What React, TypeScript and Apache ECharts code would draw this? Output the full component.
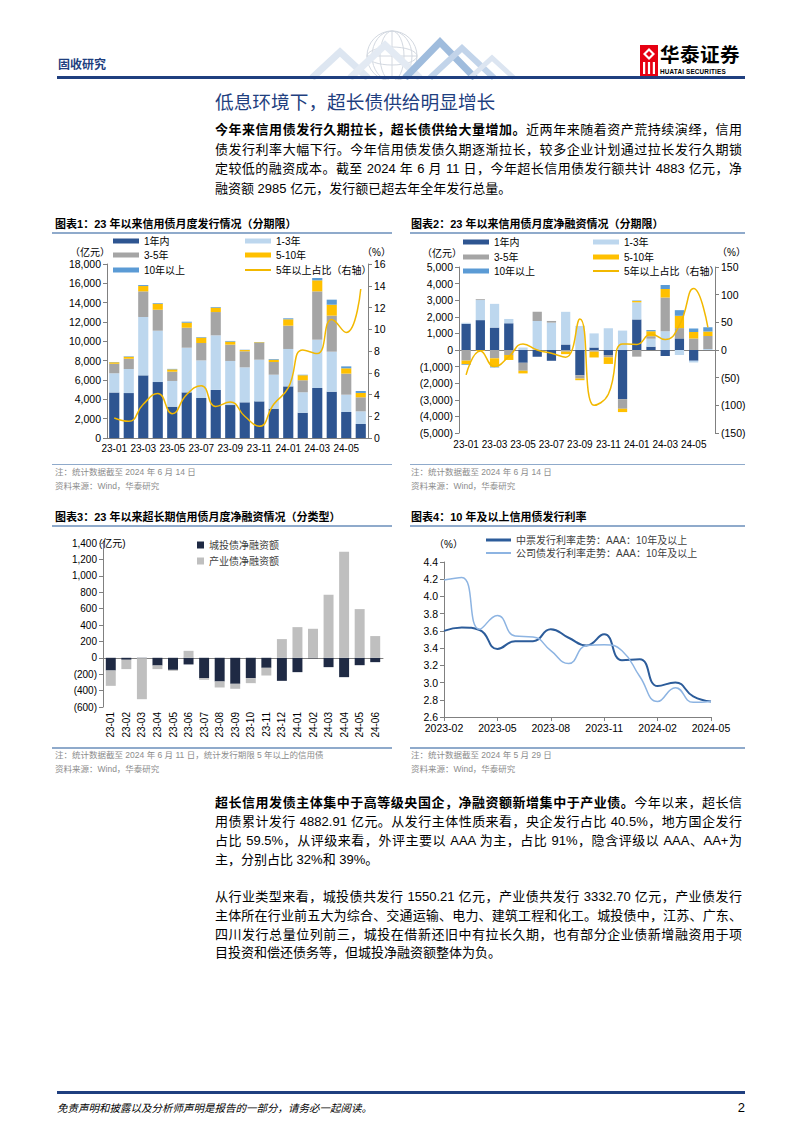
import React, { useEffect, useRef } from "react";
import * as echarts from "echarts";

const FONT = '"Liberation Sans", Arial, "Noto Sans CJK SC", sans-serif';

// ---------- data ----------
const months = ["23-01","23-02","23-03","23-04","23-05","23-06","23-07","23-08","23-09","23-10","23-11","23-12","24-01","24-02","24-03","24-04","24-05","24-06"];
const tenorNames = ["1年内", "1-3年", "3-5年", "5-10年", "10年以上"];
const ratioName = "5年以上占比（右轴）";

// chart 1: issuance by tenor (亿元)
const c1Within1y = [4700, 4650, 6480, 5790, 3240, 4720, 4140, 4970, 3410, 3690, 3790, 3030, 5340, 2620, 5170, 4790, 2690, 1450];
const c1From1to3 = [2000, 2490, 6040, 5310, 2660, 4620, 3890, 5650, 4560, 3620, 4310, 3520, 3870, 2100, 5000, 4140, 1790, 1310];
const c1From3to5 = [970, 1060, 2650, 2170, 960, 2070, 1800, 2410, 1690, 1660, 1730, 1310, 2410, 1250, 5000, 3730, 2180, 1450];
const c1From5to10 = [170, 200, 550, 620, 240, 520, 550, 450, 310, 130, 70, 240, 660, 510, 1140, 1130, 550, 450];
const c1Over10 = [30, 50, 100, 70, 50, 100, 60, 70, 70, 30, 30, 70, 100, 70, 240, 520, 200, 200];
const c1Ratio = [1.84, 1.53, 3.1, 4.1, 2.24, 4.0, 4.8, 2.9, 3.3, 2.0, 1.07, 3.1, 4.6, 8.1, 7.76, 10.9, 9.7, 13.7];

// chart 2: net financing by tenor (亿元)
const c2Within1y = [1580, 1800, 1350, 1610, -770, -400, -650, 330, -1520, 150, -300, -2960, 1840, 200, -360, 700, -650, 0];
const c2From1to3 = [60, 1210, 1430, 260, 150, 1750, 1650, 1970, 1450, 850, 1310, 1170, 1030, 480, 1130, -300, -100, 60];
const c2From3to5 = [-640, 50, -500, -300, -480, 550, 100, -100, -200, -100, -140, -580, -400, 150, 2040, 620, 690, 790];
const c2From5to10 = [-220, -50, -500, -300, -160, 0, 0, -150, -100, -350, -400, -200, 80, 300, 500, 740, 400, 260];
const c2Over10 = [-40, 0, -50, 0, 0, 0, 0, 0, 0, 0, 0, 0, 30, 70, 240, 340, 200, 260];
const c2Ratio = [-45, -2, -30, -12, 11, 0, -6, -13, 56, -100, -80, 11, 10, 29, 19, 45, 111, 41];

// chart 3: ultra-long net financing by type (亿元)
const c3Names = ["城投债净融资额", "产业债净融资额"];
const c3Chengtou = [-155, -24, -5, -94, -147, -81, -248, -289, -317, -248, -122, -281, -175, -5, -114, -236, -90, -53];
const c3Chanye = [-187, -114, -500, -44, -12, 85, -20, -73, -61, -61, -94, 228, 374, 354, 769, 1294, 594, 265];

// chart 4: issuance rates (%)
const c4Dates = ["2023-02","2023-03","2023-04","2023-05","2023-06","2023-07","2023-08","2023-09","2023-10","2023-11","2023-12","2024-01","2024-02","2024-03","2024-04","2024-05"];
const c4Names = ["中票发行利率走势：AAA：10年及以上", "公司债发行利率走势：AAA：10年及以上"];
const c4Mtn = [3.60, 3.64, 3.61, 3.39, 3.48, 3.48, 3.62, 3.52, 3.43, 3.56, 3.26, 3.27, 2.96, 3.00, 2.84, 2.78];
const c4Corp = [4.19, 4.22, 3.62, 3.78, 3.54, 3.53, 3.37, 3.22, 3.43, 3.44, 3.37, 3.07, 2.78, 2.94, 2.77, 2.78];

// ---------- styles ----------
const tenorColors = ["#2E5591", "#BDD7EE", "#A5A5A5", "#FFC000", "#5B9BD5"];
const lineGold = "#F2B800";
const axisGrey = "#808080";

function fmtNum(v: number) {
  const s = Math.abs(v).toLocaleString("en-US");
  return v < 0 ? `(${s})` : s;
}

function legendItem(name: string, left: number, top: number, w: number, h: number, color = "#000") {
  return {
    data: [name],
    left,
    top,
    padding: 0,
    itemWidth: w,
    itemHeight: h,
    icon: "rect",
    selectedMode: false,
    textStyle: { fontSize: 10, color, fontFamily: FONT },
  };
}

function unitText(text: string, x: number, y: number, color = "#000") {
  return {
    type: "text",
    x,
    y,
    style: { text, fontSize: 10, fill: color, fontFamily: FONT, verticalAlign: "middle" },
  };
}

const valueAxisBase = {
  type: "value",
  axisLine: { show: true, lineStyle: { color: axisGrey } },
  axisTick: { show: true, length: 4, lineStyle: { color: axisGrey } },
  splitLine: { show: false },
  axisLabel: { color: "#000", fontSize: 10.5, margin: 6, fontFamily: FONT },
};

function option1() {
  const c1Data = [c1Within1y, c1From1to3, c1From3to5, c1From5to10, c1Over10];
  return {
    animation: false,
    textStyle: { fontFamily: FONT },
    grid: { left: 57, top: 29, width: 261, height: 174 },
    legend: [
      legendItem(tenorNames[0], 63, 1, 26, 5),
      legendItem(tenorNames[1], 195, 1, 26, 5),
      legendItem(tenorNames[2], 63, 15, 26, 5),
      legendItem(tenorNames[3], 195, 15, 26, 5),
      legendItem(tenorNames[4], 63, 30, 26, 5),
      legendItem(ratioName, 195, 30, 26, 2),
    ],
    xAxis: {
      type: "category",
      data: months,
      axisLine: { lineStyle: { color: axisGrey } },
      axisTick: { interval: 0, length: 4, lineStyle: { color: axisGrey } },
      axisLabel: { interval: 1, color: "#000", fontSize: 10, margin: 5 },
    },
    yAxis: [
      { ...valueAxisBase, min: 0, max: 18000, interval: 2000, axisLabel: { ...valueAxisBase.axisLabel, formatter: fmtNum } },
      { ...valueAxisBase, position: "right", min: 0, max: 16, interval: 2 },
    ],
    graphic: [unitText("（亿元）", 20, 17), unitText("（%）", 312, 17)],
    series: [
      ...tenorNames.map((n, i) => ({
        name: n,
        type: "bar",
        stack: "a",
        barWidth: "70%",
        data: c1Data[i],
        itemStyle: { color: tenorColors[i] },
      })),
      {
        name: ratioName,
        type: "line",
        yAxisIndex: 1,
        data: c1Ratio,
        smooth: true,
        symbol: "none",
        lineStyle: { color: lineGold, width: 1.5 },
        itemStyle: { color: lineGold },
      },
    ],
  };
}

function option2() {
  const c2Data = [c2Within1y, c2From1to3, c2From3to5, c2From5to10, c2Over10];
  return {
    animation: false,
    textStyle: { fontFamily: FONT },
    grid: { left: 51, top: 32, width: 256, height: 166 },
    legend: [
      legendItem(tenorNames[0], 55, 2, 26, 5),
      legendItem(tenorNames[1], 185, 2, 26, 5),
      legendItem(tenorNames[2], 55, 17, 26, 5),
      legendItem(tenorNames[3], 185, 17, 26, 5),
      legendItem(tenorNames[4], 55, 31, 26, 5),
      legendItem(ratioName, 185, 31, 26, 2),
    ],
    xAxis: [
      {
        type: "category",
        data: months,
        axisLine: { onZero: true, lineStyle: { color: axisGrey } },
        axisTick: { interval: 0, length: 3, lineStyle: { color: axisGrey } },
        axisLabel: { show: false },
      },
      {
        type: "category",
        data: months,
        position: "bottom",
        axisLine: { show: false, onZero: false },
        axisTick: { show: false },
        axisLabel: { interval: 1, color: "#000", fontSize: 10, margin: 6 },
      },
    ],
    yAxis: [
      { ...valueAxisBase, min: -5000, max: 5000, interval: 1000, axisLabel: { ...valueAxisBase.axisLabel, formatter: fmtNum } },
      { ...valueAxisBase, position: "right", min: -150, max: 150, interval: 50, axisLabel: { ...valueAxisBase.axisLabel, formatter: fmtNum } },
    ],
    graphic: [unitText("（亿元）", 14, 18), unitText("（%）", 309, 17)],
    series: [
      ...tenorNames.map((n, i) => ({
        name: n,
        type: "bar",
        stack: "a",
        barWidth: "65%",
        data: c2Data[i],
        itemStyle: { color: tenorColors[i] },
      })),
      {
        name: ratioName,
        type: "line",
        yAxisIndex: 1,
        data: c2Ratio,
        smooth: true,
        symbol: "none",
        lineStyle: { color: lineGold, width: 1.5 },
        itemStyle: { color: lineGold },
      },
    ],
  };
}

function option3() {
  const colors = ["#1F2A44", "#BFBFBF"];
  const data = [c3Chengtou, c3Chanye];
  return {
    animation: false,
    textStyle: { fontFamily: FONT },
    grid: { left: 53, top: 16, width: 280, height: 164 },
    legend: [
      legendItem(c3Names[0], 147, 13, 7, 7, "#404040"),
      legendItem(c3Names[1], 147, 29, 7, 7, "#404040"),
    ],
    xAxis: [
      {
        type: "category",
        data: months,
        axisLine: { onZero: true, lineStyle: { color: axisGrey } },
        axisTick: { show: false },
        axisLabel: { show: false },
      },
      {
        type: "category",
        data: months,
        position: "bottom",
        axisLine: { show: false, onZero: false },
        axisTick: { show: false },
        axisLabel: { interval: 0, rotate: 90, color: "#000", fontSize: 10, margin: 5 },
      },
    ],
    yAxis: { ...valueAxisBase, min: -600, max: 1400, interval: 200, axisLabel: { ...valueAxisBase.axisLabel, fontSize: 10, formatter: fmtNum } },
    graphic: [unitText("(亿元)", 49, 16, "#000")],
    series: c3Names.map((n, i) => ({
      name: n,
      type: "bar",
      stack: "t",
      barWidth: "64%",
      data: data[i],
      itemStyle: { color: colors[i] },
    })),
  };
}

function option4() {
  const colors = ["#2C5C9A", "#8DB4E2"];
  const data = [c4Mtn, c4Corp];
  return {
    animation: false,
    textStyle: { fontFamily: FONT },
    grid: { left: 36, top: 35, width: 267, height: 155 },
    legend: [
      legendItem(c4Names[0], 78, 8, 25, 3, "#404040"),
      legendItem(c4Names[1], 78, 21, 25, 2, "#404040"),
    ],
    xAxis: {
      type: "category",
      data: c4Dates,
      boundaryGap: false,
      axisLine: { lineStyle: { color: axisGrey } },
      axisTick: { interval: 2, length: 4, lineStyle: { color: axisGrey } },
      axisLabel: { interval: 2, color: "#000", fontSize: 10.5, margin: 6 },
    },
    yAxis: {
      ...valueAxisBase,
      min: 2.6,
      max: 4.4,
      interval: 0.2,
      axisLabel: { ...valueAxisBase.axisLabel, formatter: (v: number) => v.toFixed(1) },
    },
    graphic: [unitText("（%）", 26, 17, "#000")],
    series: c4Names.map((n, i) => ({
      name: n,
      type: "line",
      data: data[i],
      smooth: true,
      symbol: "none",
      lineStyle: { color: colors[i], width: i === 0 ? 2 : 1.5 },
      itemStyle: { color: colors[i] },
    })),
  };
}

function Chart({ option, left, top, width, height }: { option: any; left: number; top: number; width: number; height: number }) {
  const ref = useRef<HTMLDivElement>(null);
  useEffect(() => {
    const chart = echarts.init(ref.current as HTMLDivElement, undefined, { renderer: "svg" });
    chart.setOption(option);
    return () => chart.dispose();
  }, []);
  return <div ref={ref} style={{ position: "absolute", left, top, width, height }} />;
}

const BODY = { fontSize: 13, color: "#000" };

function TextLine({ y, children, last = false }: { y: number; children: any; last?: boolean }) {
  return (
    <div
      style={{
        position: "absolute",
        left: 215,
        top: y - 10,
        width: 527,
        height: 20,
        lineHeight: "20px",
        ...BODY,
        textAlign: last ? "left" : "justify",
        textAlignLast: last ? "left" : "justify",
      } as any}
    >
      {children}
    </div>
  );
}

function abs(left: number, top: number, extra: any = {}) {
  return { position: "absolute", left, top, ...extra } as any;
}

function ChartTitle({ left, y, num, text, lineLeft, lineWidth }: any) {
  return (
    <>
      <div style={abs(left, y - 8, { fontSize: 11, fontWeight: 700, lineHeight: "16px", whiteSpace: "nowrap" })}>
        图表{num}：{text}
      </div>
      <div style={abs(lineLeft, y + 8, { width: lineWidth, height: 1.5, background: "#8FAACB" })} />
    </>
  );
}

function Notes({ left, y, note, lineLeft, lineWidth }: any) {
  const st = { fontSize: 8.5, color: "#8C8C8C", lineHeight: "12px", whiteSpace: "nowrap" };
  return (
    <>
      <div style={abs(lineLeft, y, { width: lineWidth, height: 1.5, background: "#8FAACB" })} />
      <div style={abs(left, y + 2, st)}>{note}</div>
      <div style={abs(left, y + 16, st)}>资料来源：Wind，华泰研究</div>
    </>
  );
}

function HeaderDeco() {
  return (
    <svg width={802} height={80} style={{ position: "absolute", left: 0, top: 0 }}>
      <g fill="none" stroke="#C9D0DA" strokeWidth={1} opacity={0.8}>
        <circle cx={392} cy={56} r={25} />
        <ellipse cx={392} cy={56} rx={12} ry={25} />
        <ellipse cx={392} cy={56} rx={25} ry={9} />
        <line x1={367} y1={56} x2={417} y2={56} />
        <line x1={392} y1={31} x2={392} y2={76} />
        <ellipse cx={392} cy={56} rx={20} ry={25} />
      </g>
      <g fill="none" strokeLinejoin="miter">
        <polyline points="312,78 340,52 368,78" stroke="#DDE6F1" strokeWidth={7} />
        <polyline points="350,78 385,45 420,78" stroke="#E3EAF3" strokeWidth={7} />
        <polyline points="405,78 440,42 475,78" stroke="#9FBCDD" strokeWidth={7} />
        <polyline points="430,78 462,48 494,78" stroke="#C2D4EA" strokeWidth={6} />
        <polyline points="470,78 492,58 514,78" stroke="#DCE5F1" strokeWidth={5} />
      </g>
    </svg>
  );
}

function Logo() {
  return (
    <>
      <svg width={18} height={31} style={abs(640, 45)}>
        <rect x={0} y={0} width={18} height={31} fill="#E60012" />
        <polygon points="9,3 15,9 9,15 3,9" fill="#fff" />
        <polygon points="9,6 12,9 9,12 6,9" fill="#E60012" />
        <rect x={3} y={17} width={2.2} height={12} fill="#fff" />
        <rect x={7.9} y={17} width={2.2} height={12} fill="#fff" />
        <rect x={12.8} y={17} width={2.2} height={12} fill="#fff" />
      </svg>
      <div style={abs(660, 43, { fontSize: 19.5, fontWeight: 700, lineHeight: "24px", letterSpacing: 0.5, whiteSpace: "nowrap" })}>
        华泰证券
      </div>
      <div style={abs(660, 67, { fontSize: 6.4, fontWeight: 700, lineHeight: "9px", letterSpacing: 0.15, whiteSpace: "nowrap" })}>
        HUATAI SECURITIES
      </div>
    </>
  );
}

export default function App() {
  return (
    <div
      style={{
        position: "absolute",
        left: 0,
        top: 0,
        width: 802,
        height: 1133,
        background: "#fff",
        overflow: "hidden",
        fontFamily: FONT,
        color: "#000",
      }}
    >
      <HeaderDeco />
      <div style={abs(58, 57, { fontSize: 12, fontWeight: 700, color: "#1F3F7F", lineHeight: "16px" })}>固收研究</div>
      <Logo />
      <div style={abs(57, 76, { width: 688, height: 2.5, background: "#1F3F7F" })} />

      <div style={abs(215, 91, { fontSize: 18.7, color: "#1F3F7F", lineHeight: "24px", whiteSpace: "nowrap" })}>
        低息环境下，超长债供给明显增长
      </div>

      <TextLine y={130}>
        <b>今年来信用债发行久期拉长，超长债供给大量增加。</b>近两年来随着资产荒持续演绎，信用
      </TextLine>
      <TextLine y={149.5}>债发行利率大幅下行。今年信用债发债久期逐渐拉长，较多企业计划通过拉长发行久期锁</TextLine>
      <TextLine y={169}>定较低的融资成本。截至 2024 年 6 月 11 日，今年超长信用债发行额共计 4883 亿元，净</TextLine>
      <TextLine y={188.5} last>
        融资额 2985 亿元，发行额已超去年全年发行总量。
      </TextLine>

      <ChartTitle left={55} y={224} num="1" text="23 年以来信用债月度发行情况（分期限）" lineLeft={52} lineWidth={340} />
      <ChartTitle left={411} y={224} num="2" text="23 年以来信用债月度净融资情况（分期限）" lineLeft={410} lineWidth={335} />
      <Chart option={option1()} left={50} top={235} width={345} height={228} />
      <Chart option={option2()} left={408} top={235} width={345} height={228} />
      <Notes left={55} y={463.5} note="注：统计数据截至 2024 年 6 月 14 日" lineLeft={52} lineWidth={340} />
      <Notes left={411} y={463.5} note="注：统计数据截至 2024 年 6 月 14 日" lineLeft={410} lineWidth={335} />

      <ChartTitle left={55} y={517} num="3" text="23 年以来超长期信用债月度净融资情况（分类型）" lineLeft={52} lineWidth={340} />
      <ChartTitle left={411} y={517} num="4" text="10 年及以上信用债发行利率" lineLeft={410} lineWidth={335} />
      <Chart option={option3()} left={50} top={527} width={345} height={220} />
      <Chart option={option4()} left={408} top={527} width={345} height={220} />
      <Notes left={55} y={747} note="注：统计数据截至 2024 年 6 月 11 日，统计发行期限 5 年以上的信用债" lineLeft={52} lineWidth={340} />
      <Notes left={411} y={747} note="注：统计数据截至 2024 年 5 月 29 日" lineLeft={410} lineWidth={335} />

      <TextLine y={803}>
        <b>超长信用发债主体集中于高等级央国企，净融资额新增集中于产业债。</b>今年以来，超长信
      </TextLine>
      <TextLine y={822}>用债累计发行 4882.91 亿元。从发行主体性质来看，央企发行占比 40.5%，地方国企发行</TextLine>
      <TextLine y={841}>占比 59.5%，从评级来看，外评主要以 AAA 为主，占比 91%，隐含评级以 AAA、AA+为</TextLine>
      <TextLine y={860} last>
        主，分别占比 32%和 39%。
      </TextLine>

      <TextLine y={897}>从行业类型来看，城投债共发行 1550.21 亿元，产业债共发行 3332.70 亿元，产业债发行</TextLine>
      <TextLine y={916}>主体所在行业前五大为综合、交通运输、电力、建筑工程和化工。城投债中，江苏、广东、</TextLine>
      <TextLine y={934.5}>四川发行总量位列前三，城投在借新还旧中有拉长久期，也有部分企业债新增融资用于项</TextLine>
      <TextLine y={953} last>
        目投资和偿还债务等，但城投净融资额整体为负。
      </TextLine>

      <div style={abs(57, 1091, { width: 688, height: 2.5, background: "#1F3F7F" })} />
      <div style={abs(57, 1101, { fontSize: 10.5, fontStyle: "italic", lineHeight: "14px", whiteSpace: "nowrap" })}>
        免责声明和披露以及分析师声明是报告的一部分，请务必一起阅读。
      </div>
      <div style={abs(730, 1100, { width: 15, textAlign: "right", fontSize: 13, lineHeight: "16px" })}>2</div>
    </div>
  );
}
